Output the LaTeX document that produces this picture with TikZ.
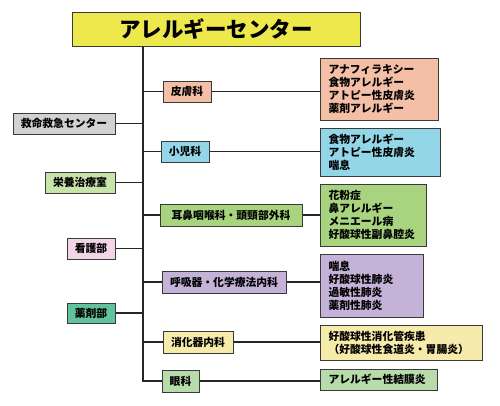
\documentclass[tikz,border=0pt]{standalone}
\usepackage{fontspec}
\setmainfont{Noto Sans CJK JP}[BoldFont={Noto Sans CJK JP Black}]
\definecolor{titleyellow}{HTML}{EDE84B}
\definecolor{qqgray}{HTML}{D2D2D2}
\definecolor{salmon}{HTML}{F3BFA6}
\definecolor{skyblue}{HTML}{92D6E8}
\definecolor{ngreen}{HTML}{A8D37F}
\definecolor{lavender}{HTML}{C4B2D8}
\definecolor{cream}{HTML}{F6EBAA}
\definecolor{leaf}{HTML}{B7DBAA}
\definecolor{teal}{HTML}{62C29D}
\definecolor{mint}{HTML}{C9E4AA}
\definecolor{pinky}{HTML}{F3D5E8}
\definecolor{edgegray}{HTML}{3A3A3A}
\begin{document}
\begin{tikzpicture}[x=1pt, y=-1pt,
  box/.style={draw=edgegray, line width=1pt, inner sep=0pt, align=center,
    font=\bfseries\fontsize{10.8}{13}\selectfont},
  list/.style={box, anchor=west, align=left, inner xsep=8pt},
  link/.style={-, line width=1.1pt, draw=black!85}]
\useasboundingbox (0,0) rectangle (500,405);
\node[box, fill=titleyellow, minimum width=288, minimum height=34, font=\bfseries\fontsize{21.5}{24}\selectfont] (T) at (216,29) {アレルギーセンター};
\coordinate (top) at (143,46);
\coordinate (bot) at (143,381);
% left side
\node[box, fill=qqgray, minimum width=102, minimum height=21] (L1) at (64,123.5) {救命救急センター};
\node[box, fill=mint, minimum width=70, minimum height=21] (L2) at (80,182.5) {栄養治療室};
\node[box, fill=pinky, minimum width=48, minimum height=21] (L3) at (91,248.5) {看護部};
\node[box, fill=teal, minimum width=48, minimum height=20] (L4) at (91,313) {薬剤部};
% departments
\node[box, fill=salmon, minimum width=48, minimum height=21] (D1) at (187,91.5) {皮膚科};
\node[box, fill=skyblue, minimum width=48, minimum height=21] (D2) at (185,151.5) {小児科};
\node[box, fill=ngreen, minimum width=142, minimum height=22] (D3) at (231,215) {耳鼻咽喉科・頭頸部外科};
\node[box, fill=lavender, minimum width=124, minimum height=22] (D4) at (224,282) {呼吸器・化学療法内科};
\node[box, fill=cream, minimum width=70, minimum height=22] (D5) at (198,342) {消化器内科};
\node[box, fill=leaf, minimum width=37, minimum height=22] (D6) at (180.5,381) {眼科};
% diseases
\node[list, fill=salmon, text width=102, minimum height=62] (R1) at (320,89) {アナフィラキシー\\食物アレルギー\\アトピー性皮膚炎\\薬剤アレルギー};
\node[list, fill=skyblue, text width=104, minimum height=48] (R2) at (320,152) {食物アレルギー\\アトピー性皮膚炎\\喘息};
\node[list, fill=ngreen, text width=90, minimum height=62] (R3) at (320,215) {花粉症\\鼻アレルギー\\メニエール病\\好酸球性副鼻腔炎};
\node[list, fill=lavender, text width=87, minimum height=63] (R4) at (320,285.5) {喘息\\好酸球性肺炎\\過敏性肺炎\\薬剤性肺炎};
\node[list, fill=cream, text width=146, minimum height=35] (R5) at (320,342.5) {好酸球性消化管疾患\\（好酸球性食道炎・胃腸炎）};
\node[list, fill=leaf, text width=101, minimum height=21] (R6) at (320,379.5) {アレルギー性結膜炎};
% connectors
\draw[link] (top) -- (bot) -- (D6.west);
\foreach \n in {L1,L2,L3,L4} \draw[link] (\n.east) -- (\n.east -| top);
\foreach \n in {D1,D2,D3,D4,D5} \draw[link] (\n.west -| top) -- (\n.west);
\draw[link] (D1.east) -- (D1.east -| R1.west);
\draw[link] (D2.east) -- (D2.east -| R2.west);
\draw[link] (D3.east) -- (D3.east -| R3.west);
\draw[link] (D4.east) -- (D4.east -| R4.west);
\draw[link] (D5.east) -- (D5.east -| R5.west);
\draw[link] (D6.east) -- (D6.east -| R6.west);
\end{tikzpicture}
\end{document}
